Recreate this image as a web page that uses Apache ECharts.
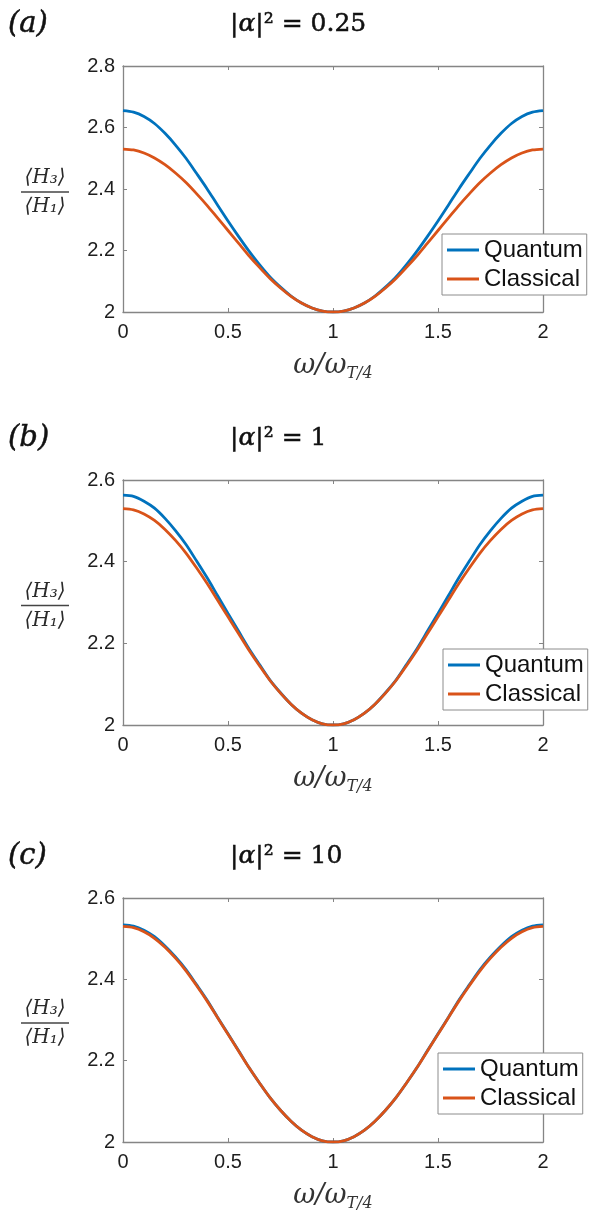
<!DOCTYPE html>
<html>
<head>
<meta charset="utf-8">
<script src="https://cdn.jsdelivr.net/npm/echarts@6/dist/echarts.min.js"></script>
<style>
  html, body { margin: 0; padding: 0; background: #fff; }
  #chart { width: 589px; height: 1214px; }
</style>
</head>
<body>
<div id="chart"></div>
<script>
// values
const omega = [0, 0.05, 0.1, 0.15, 0.2, 0.25, 0.3, 0.35, 0.4, 0.45, 0.5, 0.55, 0.6, 0.65, 0.7, 0.75, 0.8, 0.85, 0.9, 0.95, 1,
  1.05, 1.1, 1.15, 1.2, 1.25, 1.3, 1.35, 1.4, 1.45, 1.5, 1.55, 1.6, 1.65, 1.7, 1.75, 1.8, 1.85, 1.9, 1.95, 2];
const classical = [2.530, 2.527, 2.517, 2.501, 2.479, 2.452, 2.421, 2.385, 2.347, 2.306, 2.265, 2.224, 2.183, 2.145, 2.109, 2.078, 2.051, 2.029, 2.013, 2.003, 2.000,
  2.003, 2.013, 2.029, 2.051, 2.078, 2.109, 2.145, 2.183, 2.224, 2.265, 2.306, 2.347, 2.385, 2.421, 2.452, 2.479, 2.501, 2.517, 2.527, 2.530];
const quantumA = [2.655, 2.650, 2.636, 2.613, 2.581, 2.543, 2.500, 2.451, 2.401, 2.348, 2.296, 2.246, 2.198, 2.154, 2.114, 2.081, 2.052, 2.029, 2.013, 2.003, 2.000,
  2.003, 2.013, 2.029, 2.052, 2.081, 2.114, 2.154, 2.198, 2.246, 2.296, 2.348, 2.401, 2.451, 2.500, 2.543, 2.581, 2.613, 2.636, 2.650, 2.655];
const quantumB = [2.563, 2.560, 2.548, 2.531, 2.506, 2.476, 2.442, 2.402, 2.361, 2.317, 2.273, 2.230, 2.187, 2.148, 2.110, 2.079, 2.051, 2.029, 2.013, 2.003, 2.000,
  2.003, 2.013, 2.029, 2.051, 2.079, 2.110, 2.148, 2.187, 2.230, 2.273, 2.317, 2.361, 2.402, 2.442, 2.476, 2.506, 2.531, 2.548, 2.560, 2.563];
const quantumC = [2.534, 2.531, 2.521, 2.505, 2.482, 2.455, 2.424, 2.387, 2.349, 2.307, 2.266, 2.225, 2.183, 2.145, 2.109, 2.078, 2.051, 2.029, 2.013, 2.003, 2.000,
  2.003, 2.013, 2.029, 2.051, 2.078, 2.109, 2.145, 2.183, 2.225, 2.266, 2.307, 2.349, 2.387, 2.424, 2.455, 2.482, 2.505, 2.521, 2.531, 2.534];
const seriesNames = ['Quantum', 'Classical'];
const panelLetters = ['(a)', '(b)', '(c)'];
const panelTitles = ['|α|² = 0.25', '|α|² = 1', '|α|² = 10'];
const yMin = [2, 2, 2];
const yMax = [2.8, 2.6, 2.6];

// layout (pixels)
const GRID_LEFT = 123, GRID_WIDTH = 420;
const panelTop = [66, 480, 898];
const panelHeight = [246, 245, 244];
const legendPos = [[442, 234], [443, 649], [438, 1053]];

const BLUE = '#0072BD', RED = '#D95319', AXIS = '#858585';
const SANS = '"Liberation Sans", Arial, sans-serif';
const SERIF = '"DejaVu Serif", "Liberation Serif", serif';

const chart = echarts.init(document.getElementById('chart'), null, { renderer: 'canvas' });
const quantum = [quantumA, quantumB, quantumC];
const pairs = (ys) => omega.map((x, i) => [x, ys[i]]);

const grid = [], xAxis = [], yAxis = [], series = [], legend = [], graphic = [];

panelTop.forEach((top, i) => {
  const h = panelHeight[i];
  grid.push({ left: GRID_LEFT, top: top, width: GRID_WIDTH, height: h });

  const line = { show: true, onZero: false, lineStyle: { color: AXIS, width: 1.3 } };
  const tick = { show: true, inside: true, length: 4, lineStyle: { color: AXIS } };
  const label = { fontFamily: SANS, fontSize: 20, color: '#1e1e1e' };

  xAxis.push({
    gridIndex: i, type: 'value', min: 0, max: 2, interval: 0.5, position: 'bottom',
    axisLine: line, axisTick: tick, splitLine: { show: false },
    axisLabel: Object.assign({ margin: 10, formatter: (v) => String(v) }, label),
    name: '{m|ω/ω}{s|T/4}', nameLocation: 'middle', nameGap: 38,
    nameTextStyle: {
      rich: {
        m: { fontFamily: SERIF, fontStyle: 'italic', fontSize: 27, color: '#333', lineHeight: 32 },
        s: { fontFamily: SERIF, fontStyle: 'italic', fontSize: 16, color: '#333', lineHeight: 17, verticalAlign: 'bottom' },
      },
    },
  });
  xAxis.push({
    gridIndex: i, type: 'value', min: 0, max: 2, interval: 0.5, position: 'top',
    axisLine: line, axisTick: tick, splitLine: { show: false }, axisLabel: { show: false },
  });
  yAxis.push({
    gridIndex: i, type: 'value', min: yMin[i], max: yMax[i], interval: 0.2, position: 'left',
    axisLine: line, axisTick: tick, splitLine: { show: false },
    axisLabel: Object.assign({ margin: 8, formatter: (v) => String(+v.toFixed(1)) }, label),
  });
  yAxis.push({
    gridIndex: i, type: 'value', min: yMin[i], max: yMax[i], interval: 0.2, position: 'right',
    axisLine: line, axisTick: tick, splitLine: { show: false }, axisLabel: { show: false },
  });

  series.push({
    name: seriesNames[0], type: 'line', xAxisIndex: 2 * i, yAxisIndex: 2 * i,
    data: pairs(quantum[i]), showSymbol: false, smooth: 0.3, z: 2,
    lineStyle: { color: BLUE, width: 2.8 }, itemStyle: { color: BLUE },
  });
  series.push({
    name: seriesNames[1], type: 'line', xAxisIndex: 2 * i, yAxisIndex: 2 * i,
    data: pairs(classical), showSymbol: false, smooth: 0.3, z: 3,
    lineStyle: { color: RED, width: 2.8 }, itemStyle: { color: RED },
  });

  legend.push({
    data: seriesNames, orient: 'vertical', selectedMode: false,
    left: legendPos[i][0], top: legendPos[i][1],
    icon: 'rect', itemWidth: 32, itemHeight: 3, itemGap: 5,
    padding: [4, 4, 4, 5],
    backgroundColor: '#fff', borderColor: '#8c8c8c', borderWidth: 1, z: 10,
    textStyle: { fontFamily: SANS, fontSize: 24, color: '#111' },
  });

  // panel letter, title and the y label fraction
  const cy = top + h / 2 + 3;
  const heavy = { fontFamily: SERIF, fill: '#111', stroke: '#111', lineWidth: 0.5 };
  graphic.push(
    { type: 'text', x: 8, y: top - 42, style: Object.assign({ text: panelLetters[i], fontStyle: 'italic', fontSize: 29, align: 'left', verticalAlign: 'middle' }, heavy) },
    { type: 'text', x: 230, y: top - 42, style: Object.assign({
        text: panelTitles[i].replace('α', '{i|α}'), fontSize: 25, align: 'left', verticalAlign: 'middle',
        rich: { i: { fontFamily: SERIF, fontStyle: 'italic', fontSize: 25, fill: '#111', stroke: '#111', lineWidth: 0.5 } },
      }, heavy) },
    { type: 'text', x: 45, y: cy - 14, style: { text: '⟨H₃⟩', fontFamily: SERIF, fontStyle: 'italic', fontSize: 20, fill: '#2a2a2a', align: 'center', verticalAlign: 'middle' } },
    { type: 'line', shape: { x1: 21, y1: cy, x2: 69, y2: cy }, style: { stroke: '#444', lineWidth: 1.3 } },
    { type: 'text', x: 45, y: cy + 15, style: { text: '⟨H₁⟩', fontFamily: SERIF, fontStyle: 'italic', fontSize: 20, fill: '#2a2a2a', align: 'center', verticalAlign: 'middle' } }
  );
});

chart.setOption({
  animation: false,
  backgroundColor: '#fff',
  grid: grid, xAxis: xAxis, yAxis: yAxis, series: series, legend: legend, graphic: graphic,
});
window.addEventListener('resize', function () { chart.resize(); });
</script>
</body>
</html>
